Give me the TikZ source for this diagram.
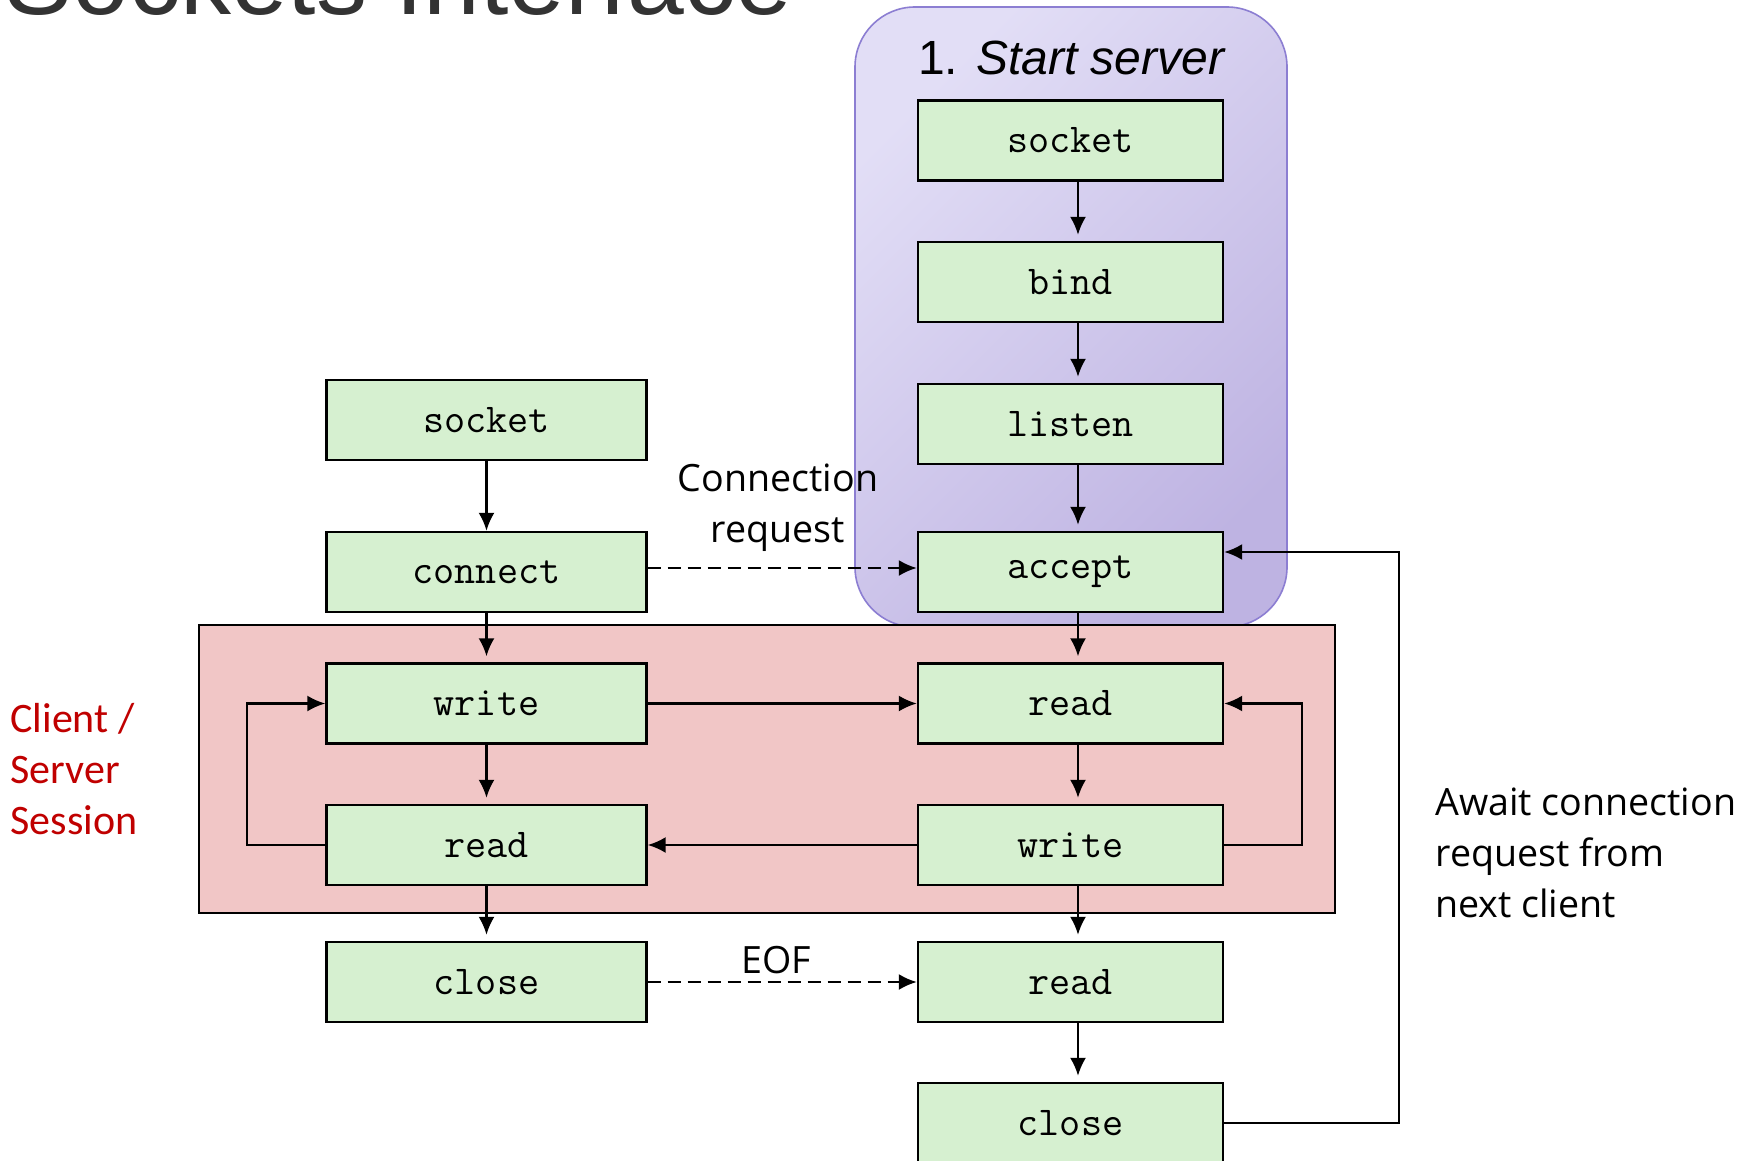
\documentclass[tikz,border=0pt]{standalone}
\usepackage{fontspec}
\usepackage{tikz}
\usetikzlibrary{arrows.meta}
\newfontfamily\titlefamily{Liberation Sans}
\newfontfamily\notefamily{Open Sans}
\newfontfamily\sessionfamily{Carlito}

\definecolor{boxgreen}{RGB}{214,240,208}
\definecolor{sessionpink}{RGB}{241,198,198}
\definecolor{purplight}{RGB}{226,222,246}
\definecolor{purpdark}{RGB}{190,179,226}
\definecolor{purpedge}{RGB}{140,126,210}
\definecolor{sessionred}{RGB}{192,0,0}
\definecolor{titlegray}{RGB}{51,51,51}

\begin{document}
\begin{tikzpicture}[x=0.5pt, y=-0.5pt,
		% 方框、箭头和文字的统一样式
		call/.style={draw, fill=boxgreen, line width=1.2pt, minimum height=40pt, inner sep=0pt,
			font=\ttfamily\fontsize{20.5}{24}\selectfont},
		client/.style={call, minimum width=160pt},
		server/.style={call, minimum width=152.5pt},
		arrow/.style={->, line width=1.1pt, >={Latex[length=9pt,width=8pt]}},
		flow/.style={arrow, shorten >=3pt},
		msg/.style={arrow, dash pattern=on 6.5pt off 3.5pt},
		note/.style={inner sep=0pt, font=\notefamily\fontsize{18.8}{25.5}\selectfont}
	]
	\useasboundingbox (0,0) rectangle (1756,1161);
	
	% ----- 1. 标题 (上半部分被裁掉) -----
	\node[anchor=base west, inner sep=0pt, text=titlegray,
		font=\titlefamily\fontsize{51}{61}\selectfont] (title) at (4,15) {Sockets Interface};
	
	% ----- 2. 背景区域 -----
	% 服务器启动区域
	\shadedraw[draw=purpedge, line width=0.8pt, rounded corners=30pt,
		top color=purplight, bottom color=purpdark, shading angle=45] (855,7) rectangle (1287,627);
	\node[anchor=base, inner sep=0pt, font=\titlefamily\fontsize{24}{29}\selectfont] (stage) at (1072,75) {1. \textit{Start server}};
	% 会话区域
	\draw[fill=sessionpink, line width=1.1pt] (199,625) rectangle (1335,913);
	
	% ----- 3. 客户端方框 -----
	\node[client] (csock) at (486.5,420) {socket};
	\node[client] (cconn) at (486.5,572) {connect};
	\node[client] (cwrite) at (486.5,703.5) {write};
	\node[client] (cread) at (486.5,845) {read};
	\node[client] (cclose) at (486.5,982) {close};
	
	% ----- 4. 服务器方框 -----
	\node[server] (ssock) at (1070.5,140.5) {socket};
	\node[server] (sbind) at (1070.5,282) {bind};
	\node[server] (slisten) at (1070.5,424) {listen};
	\node[server] (saccept) at (1070.5,572) {accept};
	\node[server] (sread) at (1070.5,703.5) {read};
	\node[server] (swrite) at (1070.5,845) {write};
	\node[server] (seof) at (1070.5,982) {read};
	\node[server] (sclose) at (1070.5,1123) {close};
	
	% ----- 5. 竖直箭头 -----
	\draw[arrow] (csock) -- (cconn);
	\draw[flow] (cconn) -- (cwrite);
	\draw[flow] (cwrite) -- (cread);
	\draw[flow] (cread) -- (cclose);
	\draw[flow] ([xshift=3.75pt]ssock.south) -- ([xshift=3.75pt]sbind.north);
	\draw[flow] ([xshift=3.75pt]sbind.south) -- ([xshift=3.75pt]slisten.north);
	\draw[flow] ([xshift=3.75pt]slisten.south) -- ([xshift=3.75pt]saccept.north);
	\draw[flow] ([xshift=3.75pt]saccept.south) -- ([xshift=3.75pt]sread.north);
	\draw[flow] ([xshift=3.75pt]sread.south) -- ([xshift=3.75pt]swrite.north);
	\draw[flow] ([xshift=3.75pt]swrite.south) -- ([xshift=3.75pt]seof.north);
	\draw[flow] ([xshift=3.75pt]seof.south) -- ([xshift=3.75pt]sclose.north);
	
	% ----- 6. 水平箭头和回路 -----
	\draw[msg] ([yshift=2pt]cconn.east) -- ([yshift=2pt]saccept.west);
	\draw[arrow] (cwrite) -- (sread);
	\draw[arrow] (swrite) -- (cread);
	\draw[msg] (cclose) -- (seof);
	
	\coordinate (lloop) at (247,775);
	\coordinate (rloop) at (1302,775);
	\coordinate (back) at (1399,800);
	\draw[arrow] (cread.west) -| (lloop) |- (cwrite.west);
	\draw[arrow] (swrite.east) -| (rloop) |- (sread.east);
	\draw[arrow] (sclose.east) -| (back) |- ([yshift=10pt]saccept.east);
	
	% ----- 7. 说明文字 -----
	\node[note, align=center] (connreq) at (778,508) {Connection\\request};
	\node[note] (eof) at (776,960) {EOF};
	\node[note, anchor=west, align=left] (await) at (1435,853) {Await connection\\request from\\next client};
	\node[inner sep=0pt, anchor=west, align=left, text=sessionred,
		font=\sessionfamily\fontsize{21}{25.5}\selectfont] (session) at (10,769) {Client /\\Server\\Session};
	
\end{tikzpicture}
\end{document}
